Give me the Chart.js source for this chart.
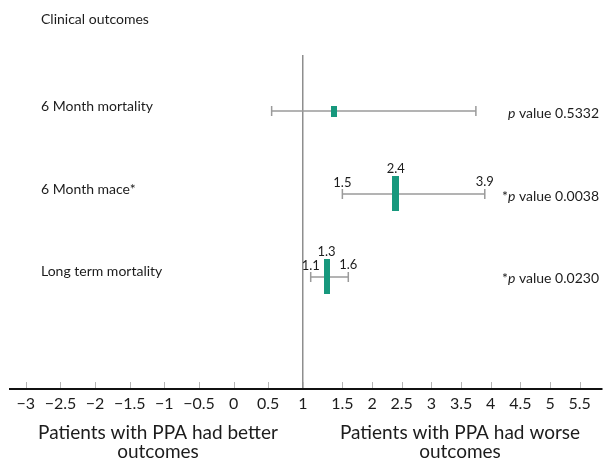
<!DOCTYPE html>
<html>
<head>
<meta charset="utf-8">
<script src="https://cdn.jsdelivr.net/npm/chart.js@4.4.1/dist/chart.umd.min.js"></script>
<style>
  html, body { margin: 0; padding: 0; background: #fff; }
  #wrap { width: 608px; height: 463px; position: relative; }
</style>
</head>
<body>
<div id="wrap"><canvas id="forest"></canvas></div>
<script>
// data
const categories = ['6 Month mortality', '6 Month mace*', 'Long term mortality'];
const pointEstimates = [1.4, 2.4, 1.3];
const lowerCI = [0.55, 1.5, 1.1];
const upperCI = [3.75, 3.9, 1.6];
const pValues = ['0.5332', '0.0038', '0.0230'];
const significant = [false, true, true];
const showValueLabels = [false, true, true];
const xTickValues = [-3, -2.5, -2, -1.5, -1, -0.5, 0, 0.5, 1, 1.5, 2, 2.5, 3, 3.5, 4, 4.5, 5, 5.5];
const sideTitles = [
    ['Patients with PPA had better', 'outcomes'],
    ['Patients with PPA had worse', 'outcomes']
];

// the original axis is not evenly spaced, so the x scale is piecewise linear
const AXIS_KNOTS = [-3, 1, 1.5, 5.5];
const AXIS_FRAC = [0.0268, 0.4950, 0.5619, 0.9632];

function segmentFor(list, v) {
    for (let i = 0; i < list.length - 2; i++) {
        if (v < list[i + 1]) return i;
    }
    return list.length - 2;
}

class BrokenLinearScale extends Chart.LinearScale {
    getPixelForValue(value) {
        const i = segmentFor(AXIS_KNOTS, value);
        const f = AXIS_FRAC[i] + (value - AXIS_KNOTS[i]) * (AXIS_FRAC[i + 1] - AXIS_FRAC[i]) / (AXIS_KNOTS[i + 1] - AXIS_KNOTS[i]);
        return this.left + f * this.width;
    }
    getValueForPixel(pixel) {
        const f = (pixel - this.left) / this.width;
        const i = segmentFor(AXIS_FRAC, f);
        return AXIS_KNOTS[i] + (f - AXIS_FRAC[i]) * (AXIS_KNOTS[i + 1] - AXIS_KNOTS[i]) / (AXIS_FRAC[i + 1] - AXIS_FRAC[i]);
    }
}
BrokenLinearScale.id = 'brokenLinear';
BrokenLinearScale.defaults = Chart.LinearScale.defaults;
Chart.register(BrokenLinearScale);

const TEXT = '#1c1c1c';
const GREY = '#9a9a9a';
const TEAL = '#17987d';
const boxSizes = [[6, 11], [7, 35], [6, 35]];
const n = categories.length;
const rowValue = i => n - i;

function makeBox(w, h) {
    const c = document.createElement('canvas');
    c.width = w;
    c.height = h;
    const g = c.getContext('2d');
    g.fillStyle = TEAL;
    g.fillRect(0, 0, w, h);
    return c;
}

const datasets = [{
    label: 'estimate',
    data: categories.map((c, i) => ({ x: pointEstimates[i], y: rowValue(i) })),
    pointStyle: boxSizes.map(s => makeBox(s[0], s[1])),
    showLine: false
}];
categories.forEach((c, i) => {
    datasets.push({
        label: c,
        data: [{ x: lowerCI[i], y: rowValue(i) }, { x: upperCI[i], y: rowValue(i) }],
        showLine: true,
        borderColor: GREY,
        borderWidth: 1.5,
        pointStyle: 'line',
        pointRotation: 90,
        pointRadius: 5,
        pointBorderColor: GREY,
        pointBorderWidth: 1.5
    });
});

function fmtTick(v) {
    return v < 0 ? '\u2212' + Math.abs(v) : String(v);
}

// tick marks point up into the plot in the original
const upTicks = {
    id: 'upTicks',
    afterDraw(chart) {
        const ctx = chart.ctx;
        const xs = chart.scales.x;
        const y0 = chart.chartArea.bottom;
        ctx.save();
        ctx.strokeStyle = '#b5b5b5';
        ctx.lineWidth = 1;
        xs.ticks.forEach(t => {
            const px = Math.round(xs.getPixelForValue(t.value)) + 0.5;
            ctx.beginPath();
            ctx.moveTo(px, y0 - 1);
            ctx.lineTo(px, y0 - 7);
            ctx.stroke();
        });
        ctx.restore();
    }
};

function drawParts(ctx, parts, right, y) {
    let total = 0;
    parts.forEach(p => {
        ctx.font = (p.italic ? 'italic ' : '') + '14px Lato';
        total += ctx.measureText(p.t).width;
    });
    let x = right - total;
    ctx.textAlign = 'left';
    parts.forEach(p => {
        ctx.font = (p.italic ? 'italic ' : '') + '14px Lato';
        ctx.fillText(p.t, x, y);
        x += ctx.measureText(p.t).width;
    });
}

const labels = {
    id: 'labels',
    afterDraw(chart) {
        const ctx = chart.ctx;
        const xs = chart.scales.x;
        const ys = chart.scales.y;
        const area = chart.chartArea;
        ctx.save();
        ctx.fillStyle = TEXT;
        ctx.textBaseline = 'middle';

        ctx.font = '14px Lato';
        ctx.textAlign = 'left';
        ctx.fillText('Clinical outcomes', 41, 19);

        categories.forEach((c, i) => {
            const py = ys.getPixelForValue(rowValue(i));
            ctx.font = '14px Lato';
            ctx.textAlign = 'left';
            ctx.fillText(c, 41, py - 5);

            const parts = [];
            if (significant[i]) parts.push({ t: '*' });
            parts.push({ t: 'p', italic: true });
            parts.push({ t: ' value ' + pValues[i] });
            drawParts(ctx, parts, 599, py + 2);

            if (showValueLabels[i]) {
                ctx.font = '13px Lato';
                ctx.textAlign = 'center';
                ctx.fillText(lowerCI[i].toFixed(1), xs.getPixelForValue(lowerCI[i]), py - 11);
                ctx.fillText(upperCI[i].toFixed(1), xs.getPixelForValue(upperCI[i]), py - 12);
                ctx.fillText(pointEstimates[i].toFixed(1), xs.getPixelForValue(pointEstimates[i]), py - 25);
            }
        });

        ctx.font = '19px Lato';
        ctx.textAlign = 'center';
        const centres = [158, 460];
        sideTitles.forEach((lines, k) => {
            lines.forEach((line, j) => {
                ctx.fillText(line, centres[k], area.bottom + 44 + j * 19);
            });
        });
        ctx.restore();
    }
};

Chart.defaults.font.family = 'Lato';
Chart.defaults.color = TEXT;

new Chart(document.getElementById('forest'), {
    type: 'scatter',
    data: { datasets: datasets },
    options: {
        responsive: true,
        maintainAspectRatio: false,
        animation: false,
        layout: { padding: { top: 55, left: 10, right: 0, bottom: 0 } },
        plugins: {
            legend: { display: false },
            tooltip: { enabled: false }
        },
        scales: {
            x: {
                type: 'brokenLinear',
                position: 'bottom',
                min: -3.3,
                max: 5.9,
                afterBuildTicks: scale => {
                    scale.ticks = xTickValues.map(v => ({ value: v }));
                },
                afterFit: scale => { scale.height = 74; },
                ticks: {
                    font: { size: 16 },
                    color: TEXT,
                    padding: 5,
                    maxRotation: 0,
                    autoSkip: false,
                    callback: v => fmtTick(v)
                },
                grid: {
                    drawTicks: false,
                    lineWidth: 1.5,
                    color: ctx => (ctx.tick && ctx.tick.value === 1 ? '#8e8e8e' : 'rgba(0,0,0,0)')
                },
                border: { display: true, color: '#111', width: 2 }
            },
            y: {
                type: 'linear',
                display: false,
                min: -0.35,
                max: 3.675
            }
        }
    },
    plugins: [upTicks, labels]
});
</script>
</body>
</html>
